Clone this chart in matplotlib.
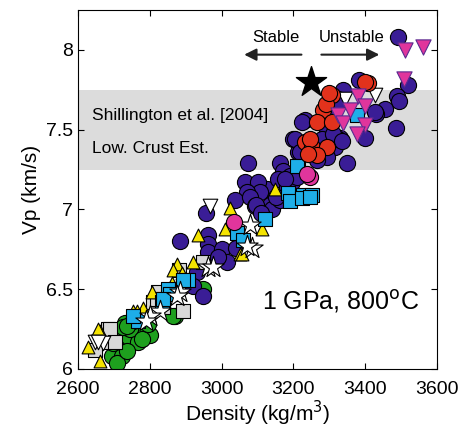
import matplotlib.pyplot as plt
from matplotlib.patches import FancyArrowPatch

plt.rcParams['font.family'] = ['Liberation Sans', 'DejaVu Sans']

# Density (kg/m3) and Vp (km/s) for each rock group
ind_x = [3491, 3383, 3519, 3489, 3494, 3455, 3430, 3486, 3338, 3232, 3199, 3213,
         3349, 3316, 3330, 3294, 3266, 3163, 3171, 3191, 3099, 3127, 3074, 3302,
         3324, 3294, 3324, 3280, 3241, 3205, 3219, 3157, 3066, 3102, 3107, 3071,
         3037, 3079, 3093, 3135, 3140, 3163, 3182, 3196, 3210, 3177, 2957, 2884,
         2962, 2962, 2962, 3001, 3015, 3095, 2931, 2920, 2948, 3224, 3310, 3335,
         3399, 3427, 3321, 3055, 3040, 3110, 3150, 2990]
ind_y = [8.08, 7.81, 7.78, 7.71, 7.68, 7.63, 7.60, 7.51, 7.75, 7.56, 7.44, 7.36,
         7.29, 7.39, 7.45, 7.33, 7.31, 7.29, 7.24, 7.21, 7.16, 7.13, 7.29, 7.62,
         7.69, 7.50, 7.44, 7.44, 7.39, 7.44, 7.36, 7.19, 7.17, 7.17, 7.11, 7.11,
         7.06, 7.08, 7.02, 7.03, 7.00, 7.06, 7.14, 7.17, 7.20, 7.19, 6.98, 6.80,
         6.84, 6.78, 6.73, 6.75, 6.67, 7.03, 6.61, 6.52, 6.46, 7.55, 7.47, 7.43,
         7.45, 7.61, 7.67, 6.82, 6.76, 6.98, 7.08, 6.70]

red_x = [3408, 3400, 3308, 3283, 3266, 3308, 3232, 3252, 3294, 3266, 3246, 3290,
         3300, 3240]
red_y = [7.79, 7.80, 7.72, 7.62, 7.55, 7.55, 7.42, 7.39, 7.39, 7.34, 7.44, 7.66,
         7.73, 7.35]

mag_tri_x = [3511, 3561, 3508, 3380, 3399, 3324, 3338, 3399, 3377, 3358]
mag_tri_y = [8.00, 8.02, 7.82, 7.71, 7.65, 7.59, 7.54, 7.53, 7.47, 7.62]

mag_circ_x = [3246, 3035, 3238]
mag_circ_y = [7.20, 6.92, 7.22]

wtri_x = [3427, 3344, 2968, 2647, 2670, 2656]
wtri_y = [7.72, 7.69, 7.02, 6.17, 6.16, 6.17]

cyan_x = [3377, 3213, 3185, 3227, 3252, 3191, 3224, 3246, 3121, 3043, 3060, 3210,
          2906, 2851, 2834, 2857, 2767, 2893, 2837, 2753]
cyan_y = [7.59, 7.27, 7.10, 7.09, 7.09, 7.05, 7.07, 7.08, 6.94, 6.85, 6.81, 7.27,
          6.56, 6.50, 6.42, 6.47, 6.30, 6.56, 6.44, 6.33]

gray_x = [2823, 2809, 2684, 2667, 2647, 2948, 2820, 2837, 2893, 2690, 2704, 2880]
gray_y = [6.48, 6.42, 6.25, 6.17, 6.12, 6.67, 6.44, 6.39, 6.36, 6.25, 6.17, 6.62]

star_x = [3079, 3085, 3071, 2962, 2976, 2884, 2828, 2801, 2876, 2790]
star_y = [6.90, 6.76, 6.77, 6.64, 6.64, 6.48, 6.36, 6.33, 6.46, 6.30]

yel_x = [2934, 3010, 3024, 2876, 2865, 2920, 2848, 2764, 2661, 2661, 3051, 2862,
         2806, 2753, 2656, 2628, 3149, 3113, 3057, 2890, 2780]
yel_y = [6.84, 6.88, 7.01, 6.66, 6.62, 6.67, 6.48, 6.36, 6.24, 6.05, 6.72, 6.54,
         6.48, 6.36, 6.25, 6.14, 7.13, 6.88, 6.72, 6.60, 6.38]

grn_x = [2731, 2759, 2787, 2801, 2717, 2739, 2767, 2709, 2695, 2723, 2709, 2737,
         2745, 2778, 2753, 2725, 2870, 2795, 2698, 2976, 2948, 2865, 2737]
grn_y = [6.29, 6.27, 6.24, 6.21, 6.21, 6.18, 6.17, 6.13, 6.08, 6.08, 6.04, 6.11,
         6.25, 6.19, 6.30, 6.26, 6.33, 6.28, 6.16, 6.69, 6.50, 6.33, 6.27]

fig = plt.figure(figsize=(4.62, 4.34), dpi=100)
ax = fig.add_axes([0.169, 0.150, 0.777, 0.827])

# lower crust estimate band
ax.axhspan(7.25, 7.75, color='#dcdcdc', zorder=0, lw=0)
ax.text(2640, 7.59, 'Shillington et al. [2004]', fontsize=12.5, va='center')
ax.text(2640, 7.38, 'Low. Crust Est.', fontsize=12.5, va='center')

kw = dict(edgecolor='black', linewidths=0.8)
ax.scatter(grn_x, grn_y, s=135, marker='o', color='#1ea01e', zorder=2, **kw)
ax.scatter(ind_x, ind_y, s=135, marker='o', color='#3a1d96', zorder=3, **kw)
ax.scatter(gray_x, gray_y, s=95, marker='s', color='#d8d8d8', zorder=3, **kw)
ax.scatter(yel_x, yel_y, s=85, marker='^', color='#f4e300', zorder=4, **kw)
ax.scatter(cyan_x, cyan_y, s=95, marker='s', color='#1eaee8', zorder=4, **kw)
ax.scatter(wtri_x, wtri_y, s=110, marker='v', color='white', zorder=4, **kw)
ax.scatter(star_x, star_y, s=260, marker='*', color='white', zorder=5, **kw)
ax.scatter(red_x, red_y, s=135, marker='o', color='#e2321c', zorder=5, **kw)
ax.scatter(mag_circ_x, mag_circ_y, s=135, marker='o', color='#e0359c', zorder=5, **kw)
ax.scatter(mag_tri_x, mag_tri_y, s=120, marker='v', color='#e0359c',
           edgecolor='#5a2a90', linewidths=0.8, zorder=6)
ax.scatter([3250], [7.8], s=520, marker='*', color='black', zorder=7)

# stability arrows
ax.add_patch(FancyArrowPatch((3230, 7.97), (3055, 7.97), arrowstyle='-|>',
                             mutation_scale=18, color='#222222', lw=1.5))
ax.add_patch(FancyArrowPatch((3270, 7.97), (3447, 7.97), arrowstyle='-|>',
                             mutation_scale=18, color='#222222', lw=1.5))
ax.text(3150, 8.08, 'Stable', fontsize=12, ha='center', va='center')
ax.text(3362, 8.08, 'Unstable', fontsize=12, ha='center', va='center')

ax.text(3330, 6.42, '1 GPa, 800$^{\\mathrm{o}}$C', fontsize=18, ha='center', va='center')

ax.set_xlim(2600, 3600)
ax.set_ylim(6, 8.25)
ax.set_xticks([2600, 2800, 3000, 3200, 3400, 3600])
ax.set_yticks([6, 6.5, 7, 7.5, 8])
ax.set_yticklabels(['6', '6.5', '7', '7.5', '8'])
ax.tick_params(direction='in', top=True, right=True, labelsize=14, length=4)
ax.tick_params(axis='x', pad=9)
ax.set_xlabel('Density (kg/m$^3$)', fontsize=15, labelpad=0)
ax.set_ylabel('Vp (km/s)', fontsize=15)

fig.savefig('out.png', dpi=100)
